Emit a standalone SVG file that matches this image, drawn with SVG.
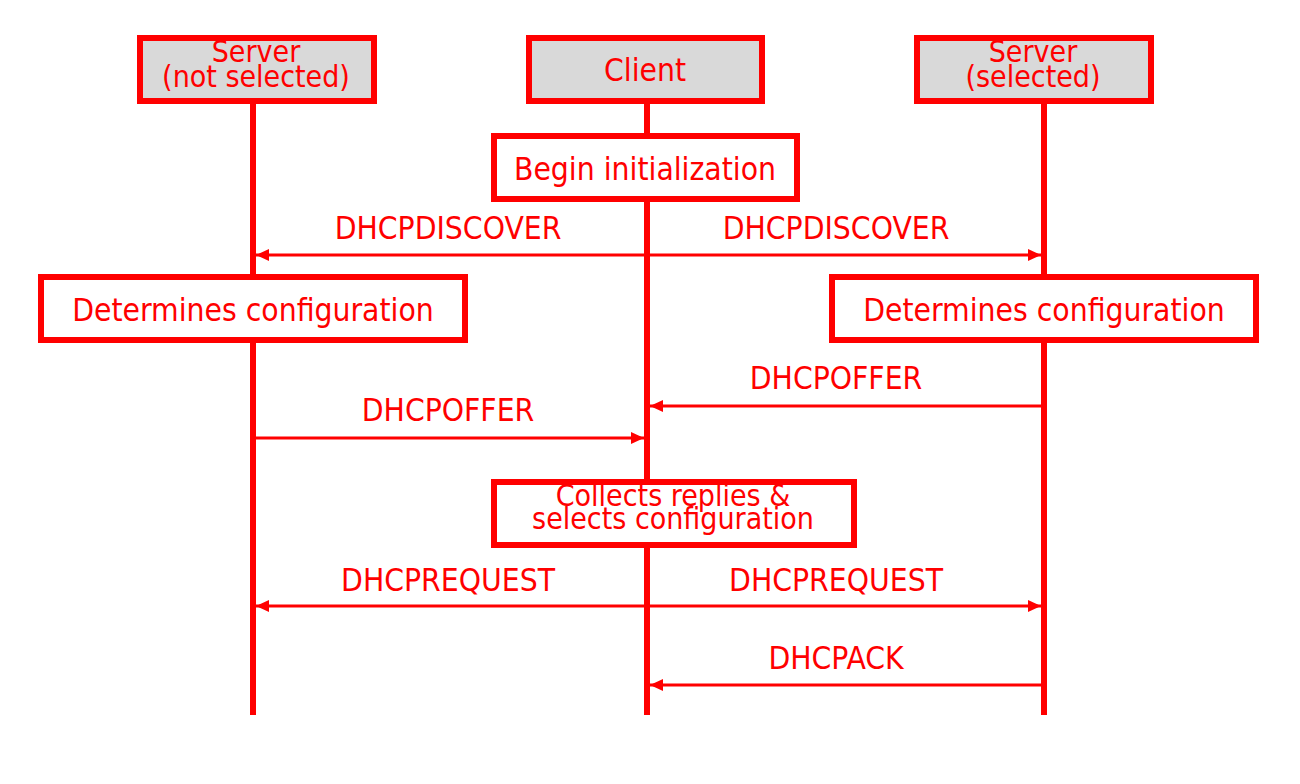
<svg xmlns="http://www.w3.org/2000/svg" width="1300" height="784" viewBox="0 0 1300 784">
<style>
text{font-family:"DejaVu Sans Condensed","DejaVu Sans",sans-serif;font-stretch:condensed;fill:#ff0000;font-size:31.5px;text-anchor:middle}
.two{font-size:30px}
.head{fill:#d9d9d9;stroke:#ff0000;stroke-width:6}
.act{fill:#ffffff;stroke:#ff0000;stroke-width:6}
.life{stroke:#ff0000;stroke-width:6;fill:none}
.msg{stroke:#ff0000;stroke-width:3;fill:none}
</style>
<defs>
<marker id="ah" viewBox="0 0 13 12" refX="13" refY="6" markerWidth="13" markerHeight="12" markerUnits="userSpaceOnUse" orient="auto-start-reverse">
<path d="M0,0 L13,6 L0,12 Z" fill="#ff0000"/>
</marker>
</defs>
<rect width="1300" height="784" fill="#ffffff"/>
<g id="lifelines">
<line class="life" x1="253" y1="102" x2="253" y2="715"/>
<line class="life" x1="647" y1="102" x2="647" y2="715"/>
<line class="life" x1="1044" y1="102" x2="1044" y2="715"/>
</g>
<g id="connectors">
<line class="msg" x1="256" y1="255" x2="1041" y2="255" marker-start="url(#ah)" marker-end="url(#ah)"/>
<line class="msg" x1="1044" y1="406" x2="650" y2="406" marker-end="url(#ah)"/>
<line class="msg" x1="253" y1="438" x2="644" y2="438" marker-end="url(#ah)"/>
<line class="msg" x1="256" y1="606" x2="1041" y2="606" marker-start="url(#ah)" marker-end="url(#ah)"/>
<line class="msg" x1="1044" y1="685" x2="650" y2="685" marker-end="url(#ah)"/>
</g>
<g id="labels">
<text x="448" y="239">DHCPDISCOVER</text>
<text x="836" y="239">DHCPDISCOVER</text>
<text x="836" y="389">DHCPOFFER</text>
<text x="448" y="421">DHCPOFFER</text>
<text x="448" y="591">DHCPREQUEST</text>
<text x="836" y="591">DHCPREQUEST</text>
<text x="836" y="669">DHCPACK</text>
</g>
<g id="server-not-selected">
<rect class="head" x="140" y="38" width="234" height="63"/>
<text class="two" x="256" y="62">Server</text>
<text class="two" x="256" y="87">(not selected)</text>
</g>
<g id="client">
<rect class="head" x="529" y="38" width="233" height="63"/>
<text x="645" y="81">Client</text>
</g>
<g id="server-selected">
<rect class="head" x="917" y="38" width="234" height="63"/>
<text class="two" x="1033" y="62">Server</text>
<text class="two" x="1033" y="87">(selected)</text>
</g>
<g id="begin-initialization">
<rect class="act" x="494" y="136" width="303" height="63"/>
<text x="645" y="180">Begin initialization</text>
</g>
<g id="determines-left">
<rect class="act" x="41" y="277" width="424" height="63"/>
<text x="253" y="321">Determines configuration</text>
</g>
<g id="determines-right">
<rect class="act" x="832" y="277" width="424" height="63"/>
<text x="1044" y="321">Determines configuration</text>
</g>
<g id="collects">
<rect class="act" x="494" y="482" width="360" height="63"/>
<text class="two" x="673" y="506">Collects replies &amp;</text>
<text class="two" x="673" y="529">selects configuration</text>
</g>
</svg>
